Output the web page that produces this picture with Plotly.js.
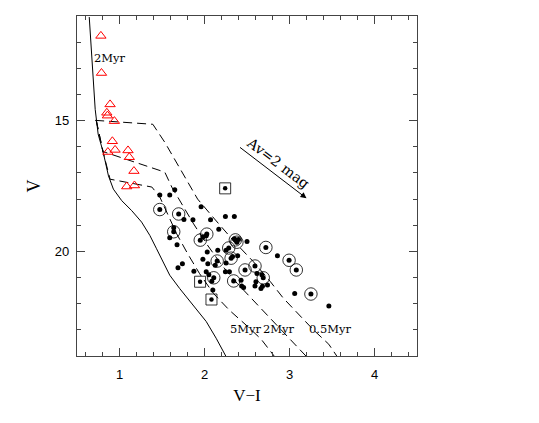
<!DOCTYPE html>
<html><head><meta charset="utf-8">
<script src="https://cdn.plot.ly/plotly-3.0.1.min.js"></script>
<style>html,body{margin:0;padding:0;background:#fff;}#chart{width:539px;height:423px;}</style>
</head><body><div id="chart"></div>
<script>
// Solid curve (main-sequence / reference isochrone)
const msX = [0.644,0.679,0.714,0.749,0.808,0.870,0.928,1.026,1.143,1.260,1.357,1.436,1.513,1.591,1.708,1.864,2.020,2.137,2.250];
const msV = [11.04,12.67,14.57,15.52,16.21,17.11,17.62,18.06,18.44,18.88,19.39,19.90,20.40,20.91,21.42,22.05,22.68,23.32,24.00];

// Dashed isochrones
const iso5X  = [0.726,0.808,0.889,1.381,1.474,1.568,1.673,1.802,1.942,2.106,2.293,2.504,2.667,2.819];
const iso5V  = [14.99,16.21,17.24,17.54,17.92,18.57,19.33,20.09,20.85,21.61,22.25,22.86,23.36,24.00];
const iso2X  = [0.726,0.808,0.831,1.533,1.615,1.732,1.872,2.024,2.199,2.387,2.586,2.784,2.971,3.193];
const iso2V  = [14.99,16.21,16.21,16.97,17.54,18.19,18.95,19.71,20.51,21.23,21.91,22.56,23.21,24.00];
const iso05X = [0.714,1.392,1.533,1.650,1.767,1.919,2.118,2.351,2.574,2.773,2.925,3.100,3.275,3.462,3.556];
const iso05V = [14.99,15.14,15.83,16.48,17.12,18.00,18.76,19.63,20.39,21.15,21.78,22.40,22.98,23.55,24.00];

// Red triangles
const triX = [0.781,0.788,0.889,0.851,0.858,0.940,0.916,0.948,0.863,1.100,1.115,1.170,1.085,1.176];
const triV = [11.76,13.18,14.38,14.70,14.81,15.02,15.79,16.12,16.20,16.14,16.40,16.93,17.52,17.48];

// Plain filled dots
const dotX = [1.474,1.591,1.650,1.758,1.864,1.960,2.071,2.168,2.246,2.351,1.591,1.638,1.677,1.981,2.032,2.156,1.981,2.254,2.500,2.390,2.858,1.688,1.740,1.875,2.020,2.051,2.126,2.086,2.098,2.246,2.293,2.254,2.437,2.460,2.594,2.682,2.741,2.617,2.675,3.061,3.463,2.039,2.430,2.605,2.664,2.350,2.400,2.330,2.020];
const dotV = [17.84,17.84,17.64,18.78,18.79,18.29,18.79,19.15,18.67,18.67,19.48,19.10,19.75,19.45,20.02,19.96,20.30,19.96,19.62,20.17,20.17,20.63,20.47,20.76,20.78,20.89,20.53,21.14,21.48,20.78,20.78,20.44,21.32,21.38,21.32,21.33,21.29,20.85,20.89,21.61,22.09,20.47,21.10,21.16,21.42,19.52,19.55,20.20,19.40];

// Circled dots
const circX = [1.474,1.696,1.638,1.950,2.027,2.363,2.381,2.285,2.722,2.313,2.149,2.477,2.594,2.691,2.109,2.343,2.995,3.080,3.252];
const circV = [18.40,18.57,19.25,19.57,19.34,19.56,19.65,19.87,19.85,20.26,20.37,20.71,20.56,21.01,21.01,21.13,20.34,20.71,21.63];

// Boxed dots
const boxX = [2.243,1.948,2.082];
const boxV = [17.59,21.16,21.84];

// Labels
const ageLabels = ["2Myr","5Myr","2Myr","0.5Myr"];
const ageLabelX = [0.889,2.494,2.880,3.485];
const ageLabelV = [12.60,22.98,22.98,22.98];

// Reddening vector (Av = 2 mag)
const redStart = [2.40, 15.98];
const redEnd   = [3.20, 17.97];
const redLabel = "Av=2 mag";
const redLabelPos = [2.87, 16.62];

const axisTicksX = [1,2,3,4];
const axisTicksV = [15,20];

const dashStyle = "9px,5px";
const traces = [
  {x: msX, y: msV, mode:'lines', line:{color:'#000', width:1}},
  {x: iso5X, y: iso5V, mode:'lines', line:{color:'#000', width:1, dash:dashStyle}},
  {x: iso2X, y: iso2V, mode:'lines', line:{color:'#000', width:1, dash:dashStyle}},
  {x: iso05X, y: iso05V, mode:'lines', line:{color:'#000', width:1, dash:dashStyle}},
  {x: triX, y: triV, mode:'markers', marker:{symbol:'triangle-up-open', size:9, color:'#ff0000', line:{width:1, color:'#ff0000'}}},
  {x: dotX, y: dotV, mode:'markers', marker:{symbol:'circle', size:5, color:'#000'}},
  {x: circX, y: circV, mode:'markers', marker:{symbol:'circle-open', size:12.5, color:'#000', line:{width:0.8, color:'#000'}}},
  {x: circX, y: circV, mode:'markers', marker:{symbol:'circle', size:5, color:'#000'}},
  {x: boxX, y: boxV, mode:'markers', marker:{symbol:'square-open', size:11, color:'#000', line:{width:0.8, color:'#000'}}},
  {x: boxX, y: boxV, mode:'markers', marker:{symbol:'circle', size:4.5, color:'#000'}}
];

const labelFont = {family:'DejaVu Serif', size:11.5, color:'#000'};
const annotations = ageLabels.map((t,i)=>({x:ageLabelX[i], y:ageLabelV[i], xref:'x', yref:'y', text:t, showarrow:false, font:labelFont}));
annotations.push({x:redEnd[0], y:redEnd[1], ax:redStart[0], ay:redStart[1], xref:'x', yref:'y', axref:'x', ayref:'y', text:'', showarrow:true, arrowhead:2, arrowsize:1.2, arrowwidth:1, arrowcolor:'#000'});
annotations.push({x:redLabelPos[0], y:redLabelPos[1], xref:'x', yref:'y', text:redLabel, showarrow:false, textangle:37, font:{family:'DejaVu Serif', size:14, color:'#000'}});

const axCommon = {
  showgrid:false, zeroline:false, showline:true, linecolor:'#444', linewidth:1.2, mirror:'allticks',
  ticks:'inside', ticklen:8, tickwidth:1, tickcolor:'#444',
  tickfont:{family:'Liberation Sans', size:13, color:'#000'}
};
const layout = {
  width:539, height:423, showlegend:false,
  paper_bgcolor:'#fff', plot_bgcolor:'#fff',
  margin:{l:77, r:122, t:16, b:67},
  xaxis: Object.assign({}, axCommon, {range:[0.5,4.5], tickvals:axisTicksX, ticktext:axisTicksX.map(String),
    minor:{dtick:0.2, tick0:0, ticks:'inside', ticklen:4, tickcolor:'#444', tickwidth:1},
    ticklabelstandoff:6,
    title:{text:'V\u2212I', font:{family:'Liberation Serif', size:17, color:'#000'}, standoff:8}}),
  yaxis: Object.assign({}, axCommon, {range:[24,11], tickvals:axisTicksV, ticktext:axisTicksV.map(String),
    minor:{dtick:1, tick0:0, ticks:'inside', ticklen:4, tickcolor:'#444', tickwidth:1},
    ticklabelstandoff:4,
    title:{text:'V', font:{family:'Liberation Serif', size:18, color:'#000'}, standoff:9}}),
  annotations: annotations
};
Plotly.newPlot('chart', traces, layout, {staticPlot:true, displayModeBar:false});
</script></body></html>
